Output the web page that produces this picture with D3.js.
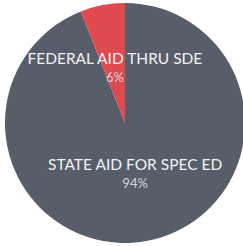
<!DOCTYPE html>
<html>
<head>
<meta charset="utf-8">
<script src="https://cdn.jsdelivr.net/npm/d3@7"></script>
<style>
  body { margin: 0; background: #fff; }
  svg { display: block; }
</style>
</head>
<body>
<svg id="chart" width="243" height="246"></svg>
<script>
const categories = ["STATE AID FOR SPEC ED", "FEDERAL AID THRU SDE"];
const shares = [94, 6];
const colors = ["#575e6a", "#e0494f"];

const svg = d3.select("#chart"),
  cx = 125,
  cy = 123,
  radius = 120;

const data = categories.map((c, i) => ({ name: c, value: shares[i], color: colors[i] }));

const pie = d3.pie().value((d) => d.value);
const arc = d3.arc().innerRadius(0).outerRadius(radius);
const labelArc = d3.arc().innerRadius(54).outerRadius(54);

const g = svg.append("g").attr("transform", `translate(${cx},${cy})`);
const arcs = pie(data);

g.selectAll("path.slice")
  .data(arcs)
  .join("path")
  .attr("class", "slice")
  .attr("fill", (d) => d.data.color)
  .attr("d", arc);

const labels = g
  .selectAll("g.label")
  .data(arcs)
  .join("g")
  .attr("class", "label")
  .attr("transform", (d) => `translate(${labelArc.centroid(d)})`);

labels
  .append("text")
  .attr("text-anchor", "middle")
  .attr("y", -6)
  .attr("fill", "#f2f2f2")
  .style("font-family", "Lato, sans-serif")
  .style("font-size", "15.5px")
  .text((d) => d.data.name);

labels
  .append("text")
  .attr("text-anchor", "middle")
  .attr("y", 12)
  .attr("fill", "#d4d5d8")
  .style("font-family", "Lato, sans-serif")
  .style("font-size", "13px")
  .text((d) => `${d.data.value}%`);
</script>
</body>
</html>
